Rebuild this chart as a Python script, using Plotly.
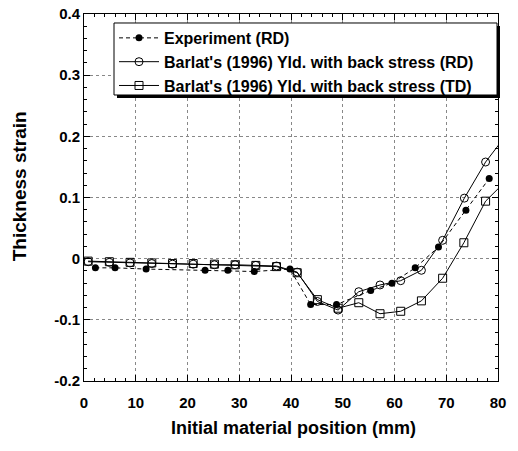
import plotly.graph_objects as go

# Experiment (RD)
exp_x = [2.2, 6.0, 12.0, 23.4, 27.8, 32.9, 39.8, 43.8, 48.8, 55.4, 59.5, 64.0, 68.5, 73.8, 78.3]
exp_y = [-0.015, -0.015, -0.017, -0.019, -0.019, -0.021, -0.017, -0.075, -0.075, -0.052, -0.040, -0.015, 0.019, 0.079, 0.131]

# Barlat RD (open circles)
rd_x = [0.8, 4.9, 8.9, 13.1, 17.1, 21.1, 25.2, 29.2, 33.2, 37.2, 41.2, 45.1, 49.1, 53.1, 57.2, 61.2, 65.2, 69.3, 73.5, 77.6, 81.4]
rd_y = [-0.005, -0.006, -0.007, -0.008, -0.009, -0.009, -0.010, -0.010, -0.011, -0.012, -0.022, -0.070, -0.084, -0.054, -0.043, -0.036, -0.019, 0.030, 0.099, 0.158, 0.200]

# Barlat TD (open squares)
td_x = [0.8, 4.9, 8.9, 13.1, 17.1, 21.1, 25.2, 29.2, 33.2, 37.2, 41.2, 45.1, 49.1, 53.1, 57.2, 61.2, 65.2, 69.3, 73.4, 77.6, 81.4]
td_y = [-0.004, -0.005, -0.006, -0.007, -0.008, -0.008, -0.009, -0.010, -0.011, -0.013, -0.023, -0.067, -0.081, -0.072, -0.090, -0.086, -0.069, -0.032, 0.026, 0.094, 0.126]

x_ticks = [0, 10, 20, 30, 40, 50, 60, 70, 80]
y_ticks = [-0.2, -0.1, 0, 0.1, 0.2, 0.3, 0.4]
y_tick_text = ["-0.2", "-0.1", "0", "0.1", "0.2", "0.3", "0.4"]

fig = go.Figure()
fig.add_trace(go.Scatter(
    x=exp_x, y=exp_y, mode="lines+markers", name="Experiment (RD)",
    line=dict(color="black", width=1, dash="4px,3px"),
    marker=dict(symbol="circle", size=7, color="black")))
fig.add_trace(go.Scatter(
    x=rd_x, y=rd_y, mode="lines+markers", name="Barlat's (1996) Yld. with back stress (RD)",
    line=dict(color="black", width=1),
    marker=dict(symbol="circle-open", size=8, color="black", line=dict(width=1))))
fig.add_trace(go.Scatter(
    x=td_x, y=td_y, mode="lines+markers", name="Barlat's (1996) Yld. with back stress (TD)",
    line=dict(color="black", width=1),
    marker=dict(symbol="square-open", size=8, color="black", line=dict(width=1))))

font_family = "Liberation Sans, Arial, sans-serif"

fig.update_layout(
    width=518, height=451,
    margin=dict(l=84, r=20, t=14, b=70, autoexpand=False),
    paper_bgcolor="white", plot_bgcolor="white",
    font=dict(family=font_family, size=13, color="black"),
    showlegend=True,
    legend=dict(
        x=0.0725, y=0.981, xanchor="left", yanchor="top",
        bgcolor="rgba(0,0,0,0)", borderwidth=0,
        font=dict(family=font_family, size=16, color="black", weight="bold"),
        tracegroupgap=0, itemwidth=40,
    ),
    xaxis=dict(
        range=[0, 80], tickvals=x_ticks, ticks="inside", ticklen=6,
        tickcolor="black", showline=True, linecolor="black", linewidth=1, mirror="ticks",
        showgrid=True, gridcolor="#888", griddash="dot", gridwidth=1,
        zeroline=False, automargin=False, ticklabelstandoff=8,
        minor=dict(dtick=2, ticks="inside", ticklen=3, tickcolor="black", showgrid=False),
        tickfont=dict(family=font_family, size=15, weight="bold"),
    ),
    yaxis=dict(
        range=[-0.2, 0.4], tickvals=y_ticks, ticktext=y_tick_text, ticks="inside", ticklen=6,
        tickcolor="black", showline=True, linecolor="black", linewidth=1, mirror="ticks",
        showgrid=True, gridcolor="#888", griddash="dot", gridwidth=1,
        zeroline=False, automargin=False,
        minor=dict(dtick=0.02, ticks="inside", ticklen=3, tickcolor="black", showgrid=False),
        tickfont=dict(family=font_family, size=15, weight="bold"),
    ),
    annotations=[
        dict(text="Initial material position (mm)", xref="paper", yref="paper",
             x=0.505, y=-0.128, xanchor="center", yanchor="middle", showarrow=False,
             font=dict(family=font_family, size=18, weight="bold")),
        dict(text="Thickness strain", xref="paper", yref="paper",
             x=-0.155, y=0.53, xanchor="center", yanchor="middle", showarrow=False,
             textangle=-90, font=dict(family=font_family, size=19, weight="bold")),
    ],
)

# legend drop shadow and frame
fig.add_shape(type="rect", xref="paper", yref="paper",
              x0=0.0797, x1=1.0048, y0=0.7711, y1=0.9673,
              fillcolor="black", line=dict(width=0), layer="above")
fig.add_shape(type="rect", xref="paper", yref="paper",
              x0=0.0725, x1=0.9976, y0=0.7793, y1=0.9755,
              fillcolor="white", line=dict(color="black", width=1), layer="above")

fig.write_html("out.html")
